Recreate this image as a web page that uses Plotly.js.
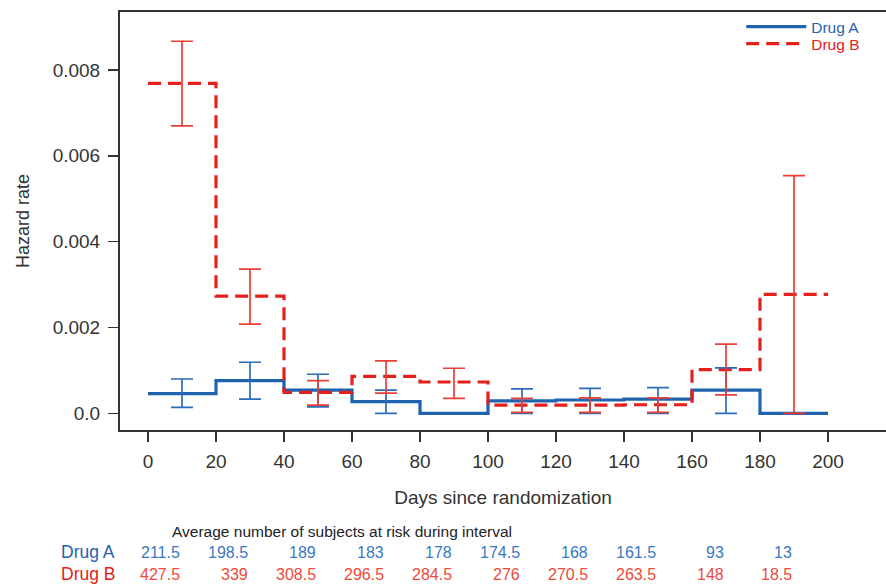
<!DOCTYPE html>
<html>
<head>
<meta charset="utf-8">
<script src="https://cdn.plot.ly/plotly-3.0.1.min.js"></script>
<style>html,body{margin:0;padding:0;background:#fff;}#chart{width:886px;height:584px;}</style>
</head>
<body>
<div id="chart"></div>
<script>
// ---- data ----
const edges = [0, 20, 40, 60, 80, 100, 120, 140, 160, 180, 200];
const mids = [10, 30, 50, 70, 90, 110, 130, 150, 170, 190];
const hazardA = [0.00046, 0.00076, 0.00054, 0.00027, 0.0, 0.00029, 0.00031, 0.00033, 0.00054, 0.0];
const hazardB = [0.00769, 0.00273, 0.00049, 0.00086, 0.00073, 0.00019, 0.00019, 0.00020, 0.00102, 0.00277];
const upperA = [0.00080, 0.00119, 0.00091, 0.00054, null, 0.00057, 0.00058, 0.00060, 0.00106, null];
const lowerA = [0.00014, 0.00033, 0.00015, 0.0, null, 0.0, 0.0, 0.0, 0.0, null];
const upperB = [0.00867, 0.00336, 0.00076, 0.00122, 0.00105, 0.00035, 0.00036, 0.00036, 0.00161, 0.00554];
const lowerB = [0.00670, 0.00208, 0.00019, 0.00047, 0.00035, 0.00002, 0.00002, 0.00002, 0.00043, 0.0];
const riskA = [211.5, 198.5, 189, 183, 178, 174.5, 168, 161.5, 93, 13];
const riskB = [427.5, 339, 308.5, 296.5, 284.5, 276, 270.5, 263.5, 148, 18.5];
const xTicks = [0, 20, 40, 60, 80, 100, 120, 140, 160, 180, 200];
const yTicks = [0, 0.002, 0.004, 0.006, 0.008];
const yTickText = ['0.0', '0.002', '0.004', '0.006', '0.008'];

// ---- styles ----
const blue = '#1f62ae', blueErr = '#2b6db6';
const red = '#e3201c', redErr = '#ea3f36';
const font = 'Liberation Sans, Arial, Helvetica, sans-serif';

const stepY = arr => arr.concat([arr[arr.length - 1]]);
const errTrace = (h, up, lo, color) => ({
  x: mids,
  y: h.map((v, i) => up[i] === null ? null : v),
  mode: 'markers', type: 'scatter', showlegend: false, hoverinfo: 'skip',
  marker: {size: 1, opacity: 0},
  error_y: {
    type: 'data', symmetric: false,
    array: h.map((v, i) => up[i] === null ? 0 : up[i] - v),
    arrayminus: h.map((v, i) => lo[i] === null ? 0 : v - lo[i]),
    color: color, thickness: 1.7, width: 11
  }
});

const traces = [
  {x: edges, y: stepY(hazardA), type: 'scatter', mode: 'lines', legend: 'legend',
   name: '<span style="color:' + blue + '">Drug A</span>',
   line: {shape: 'hv', color: blue, width: 3.2}},
  {x: edges, y: stepY(hazardB), type: 'scatter', mode: 'lines', legend: 'legend2',
   name: '<span style="color:' + red + '">Drug B</span>',
   line: {shape: 'hv', color: red, width: 3.2, dash: '13px,7px'}},
  errTrace(hazardA, upperA, lowerA, blueErr),
  errTrace(hazardB, upperB, lowerB, redErr)
];

const yPix = py => (430 - py) / 418;
const xPix = px => (px - 120) / 766;
const annotations = [];
annotations.push({xref: 'x', yref: 'paper', x: 6.5, y: yPix(531), xanchor: 'left', yanchor: 'middle',
  text: 'Average number of subjects at risk during interval', showarrow: false, font: {size: 15.5, color: '#222', family: font}});
annotations.push({xref: 'paper', yref: 'paper', x: xPix(117), y: yPix(552), xanchor: 'right', yanchor: 'middle',
  text: 'Drug A', showarrow: false, font: {size: 17.5, color: blue, family: font}});
annotations.push({xref: 'paper', yref: 'paper', x: xPix(117), y: yPix(574), xanchor: 'right', yanchor: 'middle',
  text: 'Drug B', showarrow: false, font: {size: 17.5, color: red, family: font}});
mids.forEach((m, i) => {
  annotations.push({xref: 'x', yref: 'paper', x: m, y: yPix(552), xanchor: 'right', yanchor: 'middle',
    text: String(riskA[i]), showarrow: false, font: {size: 16, color: '#3a78c0', family: font}});
  annotations.push({xref: 'x', yref: 'paper', x: m, y: yPix(574), xanchor: 'right', yanchor: 'middle',
    text: String(riskB[i]), showarrow: false, font: {size: 16, color: '#ec4a3c', family: font}});
});

const legendStyle = top => ({x: 0.811, y: yPix(top), xanchor: 'left', yanchor: 'top', bgcolor: 'rgba(0,0,0,0)',
  font: {size: 15.5, family: font}, itemwidth: 60, tracegroupgap: 0});

const layout = {
  width: 886, height: 584,
  margin: {l: 120, r: 0, t: 12, b: 154, pad: 0},
  paper_bgcolor: '#fff', plot_bgcolor: '#fff',
  font: {family: font, size: 18, color: '#333'},
  showlegend: true,
  legend: legendStyle(10),
  legend2: legendStyle(27),
  xaxis: {
    range: [-8.235, 217.06], tickvals: xTicks, ticks: 'outside', ticklen: 10, tickwidth: 1.5, tickcolor: '#333',
    showline: true, linecolor: '#333', linewidth: 2, mirror: true, showgrid: false, zeroline: false,
    tickfont: {size: 19, color: '#333'}, ticklabelstandoff: 3,
    title: {text: 'Days since randomization', font: {size: 19, color: '#333'}, standoff: 20},
    automargin: false
  },
  yaxis: {
    range: [-0.000389, 0.009352], tickvals: yTicks, ticktext: yTickText, ticks: 'outside', ticklen: 10, tickwidth: 1.5, tickcolor: '#333',
    showline: true, linecolor: '#333', linewidth: 2, mirror: false, showgrid: false, zeroline: false,
    tickfont: {size: 19, color: '#333'}, ticklabelstandoff: 4,
    title: {text: 'Hazard rate', font: {size: 18, color: '#333'}, standoff: 18},
    automargin: false
  },
  annotations: annotations
};

Plotly.newPlot('chart', traces, layout, {displayModeBar: false, staticPlot: true});
</script>
</body>
</html>
